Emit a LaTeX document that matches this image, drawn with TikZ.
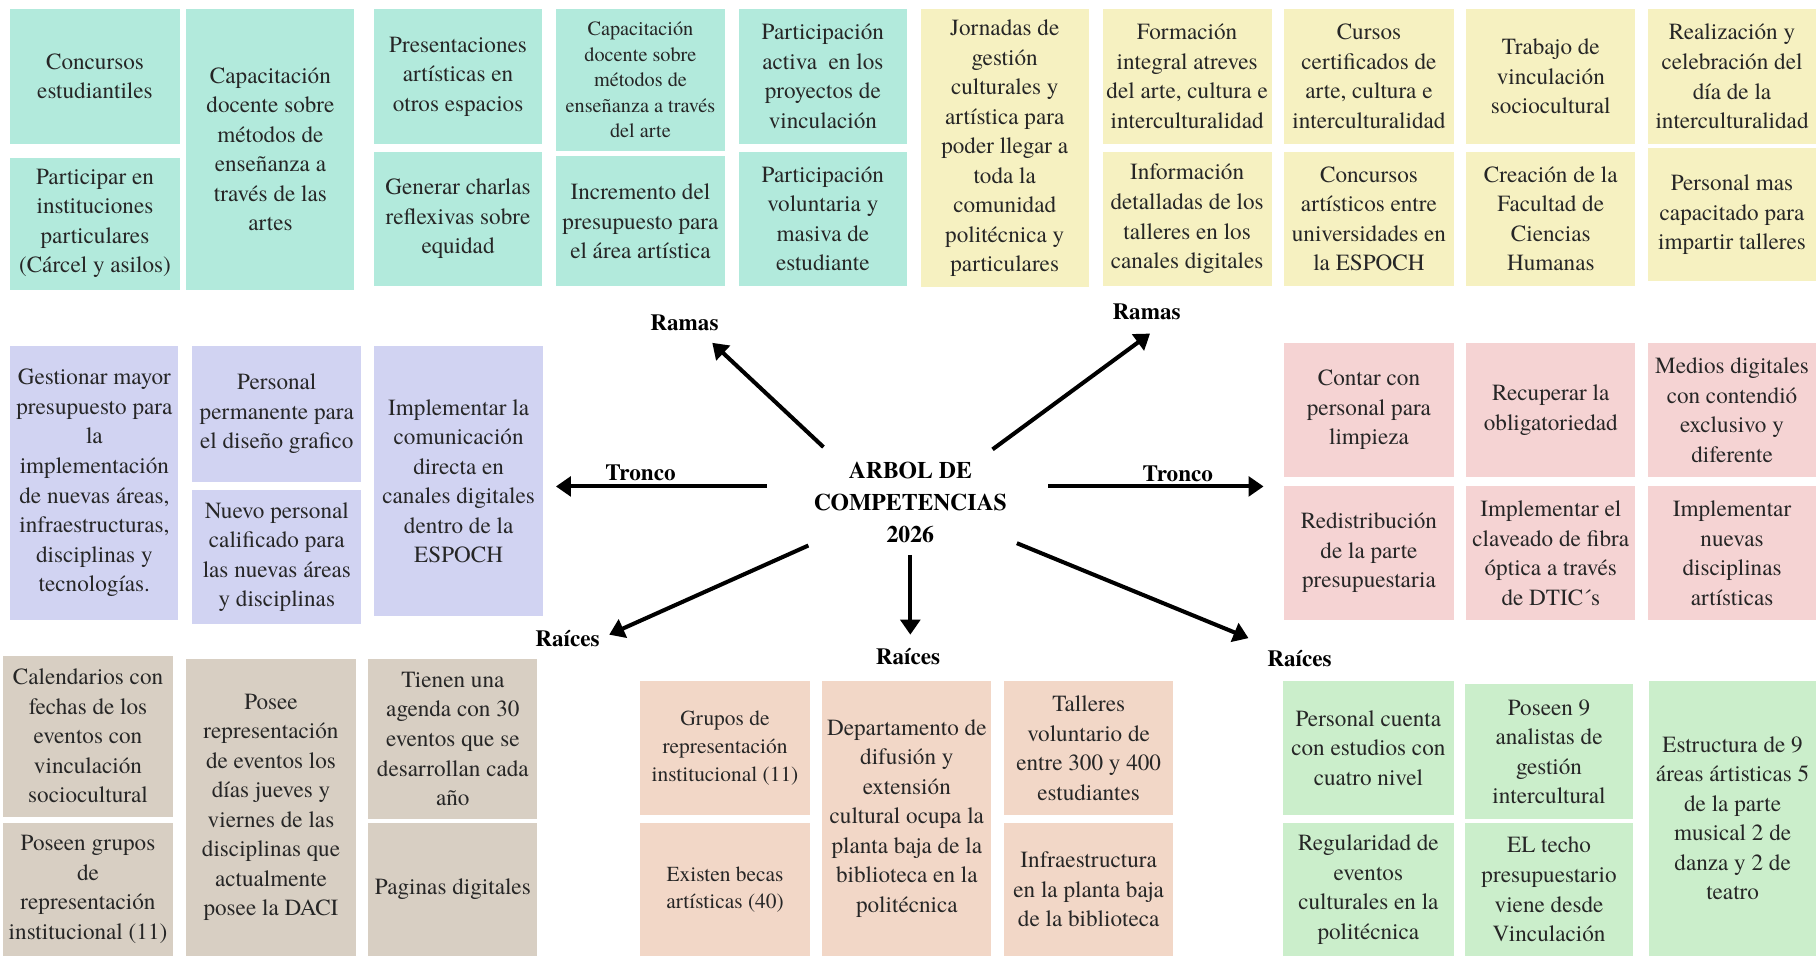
\documentclass[tikz,border=0pt]{standalone}
\usepackage{fontspec}
\setmainfont{TeX Gyre Termes}
\usetikzlibrary{arrows.meta}
\definecolor{cteal}{HTML}{B2EADC}
\definecolor{cyel}{HTML}{F6F1C1}
\definecolor{clav}{HTML}{D1D3F2}
\definecolor{cpink}{HTML}{F5D3D3}
\definecolor{ctan}{HTML}{D8CFC3}
\definecolor{cpeach}{HTML}{F2D7C7}
\definecolor{cgreen}{HTML}{CBEECB}
\definecolor{ctext}{HTML}{262626}
\newcommand{\cellbox}[8][]{\node[bx,fill=#3,minimum width={(#6-#4)*1pt},minimum height={(#7-#5)*1pt},#1] (#2) at ({(#4+#6)/2},{(#5+#7)/2}) {#8};}
\tikzset{
  bx/.style={inner sep=0pt, align=center, font=\fontsize{20}{25.5}\selectfont, text=ctext},
  sm/.style={font=\fontsize{17.5}{22}\selectfont},
  md/.style={font=\fontsize{18.5}{24}\selectfont},
  lbl/.style={font=\bfseries\fontsize{20}{24}\selectfont, inner sep=0pt},
  arr/.style={line width=3.5pt, -{Triangle[length=13pt,width=17pt]}},
}
\begin{document}
\begin{tikzpicture}[x=1pt,y=-1pt]
\fill[white] (0,0) rectangle (1568,825);
\useasboundingbox (0,0) rectangle (1568,825);
% top row
\cellbox{t1a}{cteal}{9}{8}{155}{124}{Concursos\\estudiantiles}
\cellbox{t1b}{cteal}{9}{136}{155}{250}{Participar en\\instituciones\\particulares\\(Cárcel y asilos)}
\cellbox{t2}{cteal}{161}{8}{306}{250}{Capacitación\\docente sobre\\métodos de\\enseñanza a\\través de las\\artes}
\cellbox{t3a}{cteal}{323}{8}{468}{124}{Presentaciones\\artísticas en\\otros espacios}
\cellbox{t3b}{cteal}{323}{131}{468}{247}{Generar charlas\\reflexivas sobre\\equidad}
\cellbox[sm]{t4a}{cteal}{480}{8}{626}{130}{Capacitación\\docente sobre\\métodos de\\enseñanza a través\\del arte}
\cellbox{t4b}{cteal}{480}{135}{626}{247}{Incremento del\\presupuesto para\\el área artística}
\cellbox{t5a}{cteal}{638}{8}{783}{124}{Participación\\activa\ \ en los\\proyectos de\\vinculación}
\cellbox{t5b}{cteal}{638}{131}{783}{247}{Participación\\voluntaria y\\masiva de\\estudiante}
\cellbox{t6}{cyel}{795}{8}{940}{248}{Jornadas de\\gestión\\culturales y\\artística para\\poder llegar a\\toda la\\comunidad\\politécnica y\\particulares}
\cellbox{t7a}{cyel}{952}{8}{1098}{124}{Formación\\integral atreves\\del arte, cultura e\\interculturalidad}
\cellbox{t7b}{cyel}{952}{131}{1098}{247}{Información\\detalladas de los\\talleres en los\\canales digitales}
\cellbox{t8a}{cyel}{1109}{8}{1255}{124}{Cursos\\certificados de\\arte, cultura e\\interculturalidad}
\cellbox{t8b}{cyel}{1109}{131}{1255}{247}{Concursos\\artísticos entre\\universidades en\\la ESPOCH}
\cellbox{t9a}{cyel}{1266}{8}{1412}{124}{Trabajo de\\vinculación\\sociocultural}
\cellbox{t9b}{cyel}{1266}{131}{1412}{247}{Creación de la\\Facultad de\\Ciencias\\Humanas}
\cellbox{t10a}{cyel}{1423}{8}{1568}{124}{Realización y\\celebración del\\día de la\\interculturalidad}
\cellbox{t10b}{cyel}{1423}{128}{1568}{243}{Personal mas\\capacitado para\\impartir talleres}
% middle left
\cellbox{m1}{clav}{9}{299}{154}{535}{Gestionar mayor\\presupuesto para\\la\\implementación\\de nuevas áreas,\\infraestructuras,\\disciplinas y\\tecnologías.}
\cellbox{m2a}{clav}{166}{299}{312}{416}{Personal\\permanente para\\el diseño grafico}
\cellbox{m2b}{clav}{166}{423}{312}{539}{Nuevo personal\\calificado para\\las nuevas áreas\\y disciplinas}
\cellbox{m3}{clav}{323}{299}{469}{532}{Implementar la\\comunicación\\directa en\\canales digitales\\dentro de la\\ESPOCH}
% middle right
\cellbox{p1a}{cpink}{1109}{296}{1255}{412}{Contar con\\personal para\\limpieza}
\cellbox{p2a}{cpink}{1266}{296}{1412}{412}{Recuperar la\\obligatoriedad}
\cellbox{p3a}{cpink}{1423}{296}{1568}{412}{Medios digitales\\con contendió\\exclusivo y\\diferente}
\cellbox{p1b}{cpink}{1109}{420}{1255}{535}{Redistribución\\de la parte\\presupuestaria}
\cellbox{p2b}{cpink}{1266}{420}{1412}{535}{Implementar el\\claveado de fibra\\óptica a través\\de DTIC´s}
\cellbox{p3b}{cpink}{1423}{420}{1568}{535}{Implementar\\nuevas\\disciplinas\\artísticas}
% bottom left
\cellbox{b1a}{ctan}{3}{566}{149}{705}{Calendarios con\\fechas de los\\eventos con\\vinculación\\sociocultural}
\cellbox{b1b}{ctan}{3}{711}{149}{825}{Poseen grupos\\de\\representación\\institucional (11)}
\cellbox{b2}{ctan}{161}{569}{307}{825}{Posee\\representación\\de eventos los\\días jueves y\\viernes de las\\disciplinas que\\actualmente\\posee la DACI}
\cellbox{b3a}{ctan}{318}{569}{464}{707}{Tienen una\\agenda con 30\\eventos que se\\desarrollan cada\\año}
\cellbox{b3b}{ctan}{318}{711}{464}{825}{Paginas digitales}
% bottom center
\cellbox[md]{c1a}{cpeach}{553}{588}{699}{704}{Grupos de\\representación\\institucional (11)}
\cellbox[md]{c1b}{cpeach}{553}{711}{699}{825}{Existen becas\\artísticas (40)}
\cellbox{c2}{cpeach}{710}{588}{856}{825}{Departamento de\\difusión y\\extensión\\cultural ocupa la\\planta baja de la\\biblioteca en la\\politécnica}
\cellbox{c3a}{cpeach}{867}{588}{1013}{704}{Talleres\\voluntario de\\entre 300 y 400\\estudiantes}
\cellbox{c3b}{cpeach}{867}{711}{1013}{825}{Infraestructura\\en la planta baja\\de la biblioteca}
% bottom right
\cellbox{g1a}{cgreen}{1108}{588}{1255}{704}{Personal cuenta\\con estudios con\\cuatro nivel}
\cellbox{g1b}{cgreen}{1108}{711}{1255}{825}{Regularidad de\\eventos\\culturales en la\\politécnica}
\cellbox{g2a}{cgreen}{1265}{591}{1410}{707}{Poseen 9\\analistas de\\gestión\\intercultural}
\cellbox{g2b}{cgreen}{1265}{711}{1410}{825}{EL techo\\presupuestario\\viene desde\\Vinculación}
\cellbox{g3}{cgreen}{1424}{588}{1568}{825}{Estructura de 9\\áreas ártisticas 5\\de la parte\\musical 2 de\\danza y 2 de\\teatro}
% center
\node[align=center, inner sep=0pt, font=\bfseries\fontsize{20.5}{27.5}\selectfont] (center) at (786,434) {ARBOL DE\\COMPETENCIAS\\2026};
\node[lbl] (lramL) at (591,279) {Ramas};
\node[lbl] (lramR) at (990,269) {Ramas};
\node[lbl] (ltroL) at (553,408) {Tronco};
\node[lbl] (ltroR) at (1017,409) {Tronco};
\node[lbl] (lraiL) at (490,551) {Raíces};
\node[lbl] (lraiM) at (784,567) {Raíces};
\node[lbl] (lraiR) at (1122,569) {Raíces};
% arrows
\coordinate (ulS) at (711,386); \coordinate (ulE) at (615,296);
\coordinate (urS) at (857,388); \coordinate (urE) at (993,288);
\coordinate (lS) at (662,420);  \coordinate (lE) at (480,420);
\coordinate (rS) at (905,420);  \coordinate (rE) at (1091,420);
\coordinate (llS) at (698,471); \coordinate (llE) at (526,548);
\coordinate (dS) at (786,479);  \coordinate (dE) at (786,548);
\coordinate (lrS) at (878,469); \coordinate (lrE) at (1078,551);
\draw[arr] (ulS) -- (ulE);
\draw[arr] (urS) -- (urE);
\draw[arr] (lS) -- (lE);
\draw[arr] (rS) -- (rE);
\draw[arr] (llS) -- (llE);
\draw[arr] (dS) -- (dE);
\draw[arr] (lrS) -- (lrE);
\end{tikzpicture}
\end{document}
